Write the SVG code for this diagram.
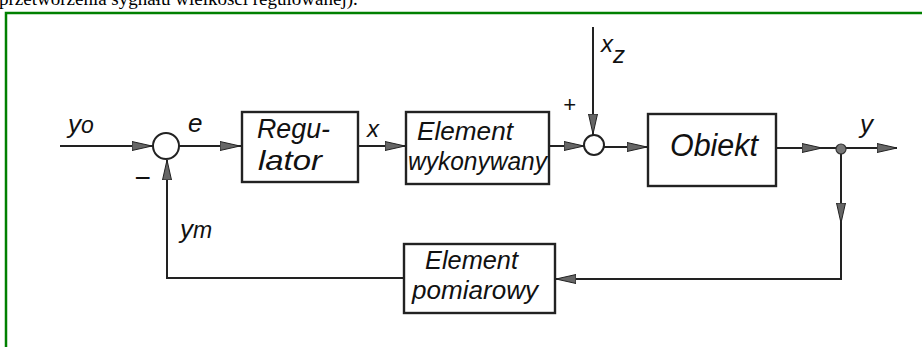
<svg xmlns="http://www.w3.org/2000/svg" width="922" height="347" viewBox="0 0 922 347">
<style>
.frame{fill:none;stroke:#008000;stroke-width:2.5}
.box{fill:#fff;stroke:#222;stroke-width:2.4}
.ln{fill:none;stroke:#222;stroke-width:2}
.sum{fill:#fff;stroke:#222;stroke-width:2}
.lbl{font-family:"Liberation Sans",Arial,sans-serif;font-style:italic;fill:#111}
.cap{font-family:"Liberation Serif","Times New Roman",serif;font-size:19px;fill:#000}
</style>
<defs>
<marker id="ah" markerUnits="userSpaceOnUse" markerWidth="24" markerHeight="12" refX="20" refY="5" orient="auto">
<path d="M0,0.5 L20,5 L0,9.5 Z" fill="#666" stroke="#222" stroke-width="1"/>
</marker>
</defs>
<rect width="922" height="347" fill="#fff"/>
<text class="cap" x="-1" y="5">przetworzenia sygnału wielkości regulowanej).</text>
<path class="frame" d="M6,347 V13 H922"/>

<g id="connectors">
<path class="ln" d="M60,146 H153"/>
<path class="ln" d="M131,146 H152" marker-end="url(#ah)"/>
<path class="ln" d="M179,146 H241"/>
<path class="ln" d="M218,146 H240" marker-end="url(#ah)"/>
<path class="ln" d="M358,146 H406"/>
<path class="ln" d="M383,146 H405" marker-end="url(#ah)"/>
<path class="ln" d="M549,146 H584"/>
<path class="ln" d="M563,146 H584" marker-end="url(#ah)"/>
<path class="ln" d="M593,27 V135"/>
<path class="ln" d="M593,112 V134" marker-end="url(#ah)"/>
<path class="ln" d="M604,147 H648"/>
<path class="ln" d="M625,147 H647" marker-end="url(#ah)"/>
<path class="ln" d="M776,148 H897"/>
<path class="ln" d="M801,148 H822" marker-end="url(#ah)"/>
<path class="ln" d="M872,148 H897" marker-end="url(#ah)"/>
<path class="ln" d="M841,149 V279 H555"/>
<path class="ln" d="M841,199 V223" marker-end="url(#ah)"/>
<path class="ln" d="M580,279 H556" marker-end="url(#ah)"/>
<path class="ln" d="M404,278 H167 V160"/>
<path class="ln" d="M167,181 V160" marker-end="url(#ah)"/>
<circle cx="841" cy="149" r="5" fill="#777" stroke="#333" stroke-width="1.2"/>
</g>

<g id="sum1"><circle class="sum" cx="166" cy="146" r="13"/></g>
<g id="sum2"><circle class="sum" cx="594" cy="145" r="10"/></g>

<g id="regulator">
<rect class="box" x="242" y="112" width="116" height="70"/>
<text class="lbl" x="257" y="138" font-size="28" textLength="73" lengthAdjust="spacingAndGlyphs">Regu-</text>
<text class="lbl" x="258" y="170" font-size="28" textLength="64" lengthAdjust="spacingAndGlyphs">lator</text>
</g>

<g id="wykonawczy">
<rect class="box" x="406" y="112" width="143" height="72"/>
<text class="lbl" x="417" y="140" font-size="25" textLength="96" lengthAdjust="spacingAndGlyphs">Element</text>
<text class="lbl" x="408" y="170" font-size="25" textLength="139" lengthAdjust="spacingAndGlyphs">wykonywany</text>
</g>

<g id="obiekt">
<rect class="box" x="648" y="114" width="128" height="72"/>
<text class="lbl" x="670" y="156" font-size="31" textLength="88" lengthAdjust="spacingAndGlyphs">Obiekt</text>
</g>

<g id="pomiarowy">
<rect class="box" x="404" y="244" width="151" height="69"/>
<text class="lbl" x="425" y="269" font-size="26" textLength="93" lengthAdjust="spacingAndGlyphs">Element</text>
<text class="lbl" x="412" y="299" font-size="26" textLength="126" lengthAdjust="spacingAndGlyphs">pomiarowy</text>
</g>

<g id="labels">
<text class="lbl" x="68" y="133" font-size="26">y<tspan font-size="23">o</tspan></text>
<text class="lbl" x="188" y="132" font-size="26">e</text>
<text class="lbl" x="367" y="137" font-size="24">x</text>
<text class="lbl" x="601" y="52" font-size="24">x<tspan font-size="24" dy="11">z</tspan></text>
<text class="lbl" x="860" y="133" font-size="26">y</text>
<text class="lbl" x="180" y="238" font-size="26">y<tspan font-size="23">m</tspan></text>
<text class="lbl" x="563" y="112" font-size="22">+</text>
<text class="lbl" x="134" y="187" font-size="28">−</text>
</g>
</svg>
